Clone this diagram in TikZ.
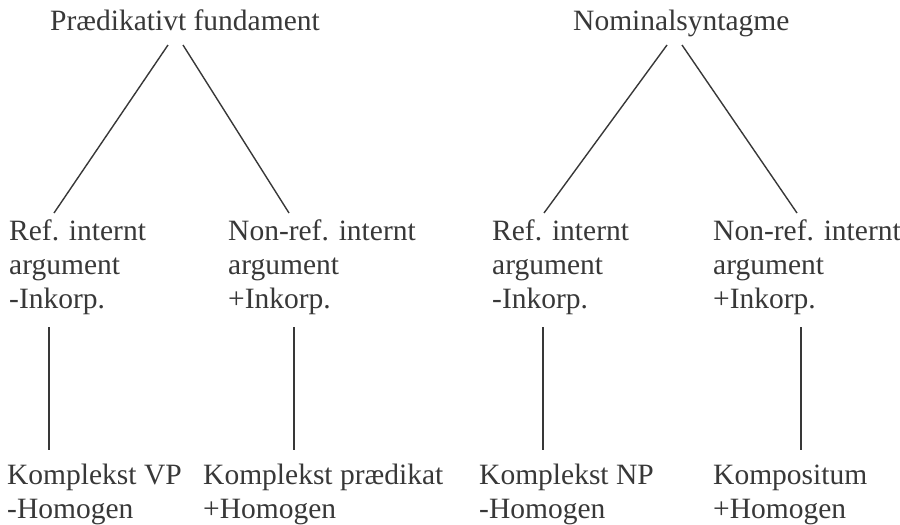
\documentclass[tikz,border=0pt]{standalone}
\usepackage{fontspec}
\setmainfont{Liberation Serif}
\definecolor{ink}{HTML}{383838}
\begin{document}
\begin{tikzpicture}[x=1pt,y=-1pt,
  lbl/.style={anchor=base west,inner sep=0pt,align=left,text=ink,
    font=\fontsize{29.5}{34}\selectfont},
  conn/.style={draw=ink,line width=1.4pt}]
\useasboundingbox (0,0) rectangle (900,525);
% left tree (anchor = baseline of the last line)
\node[lbl] (pf) at (50,30) {Prædikativt fundament};
\node[lbl] (r1) at (9,308) {Ref. internt\\argument\\-Inkorp.};
\node[lbl] (n1) at (228,308) {Non-ref. internt\\argument\\+Inkorp.};
\node[lbl] (kv) at (7,518) {Komplekst VP\\-Homogen};
\node[lbl] (kp) at (203,518) {Komplekst prædikat\\+Homogen};
% right tree
\node[lbl] (ns) at (573,30) {Nominalsyntagme};
\node[lbl] (r2) at (492,308) {Ref. internt\\argument\\-Inkorp.};
\node[lbl] (n2) at (713,308) {Non-ref. internt\\argument\\+Inkorp.};
\node[lbl] (kn) at (479,518) {Komplekst NP\\-Homogen};
\node[lbl] (ko) at (713,518) {Kompositum\\+Homogen};
% connector end points
\coordinate (pfL) at (168,45);  \coordinate (r1T) at (54,213);
\coordinate (pfR) at (183,45);  \coordinate (n1T) at (289,213);
\coordinate (r1B) at (49,327);  \coordinate (kvT) at (49,450);
\coordinate (n1B) at (294,327); \coordinate (kpT) at (294,450);
\coordinate (nsL) at (667,45);  \coordinate (r2T) at (544,213);
\coordinate (nsR) at (682,45);  \coordinate (n2T) at (797,213);
\coordinate (r2B) at (543,327); \coordinate (knT) at (543,450);
\coordinate (n2B) at (801,327); \coordinate (koT) at (801,450);
\draw[conn] (pfL) -- (r1T);
\draw[conn] (pfR) -- (n1T);
\draw[conn] (r1B) -- (kvT);
\draw[conn] (n1B) -- (kpT);
\draw[conn] (nsL) -- (r2T);
\draw[conn] (nsR) -- (n2T);
\draw[conn] (r2B) -- (knT);
\draw[conn] (n2B) -- (koT);
\end{tikzpicture}
\end{document}
